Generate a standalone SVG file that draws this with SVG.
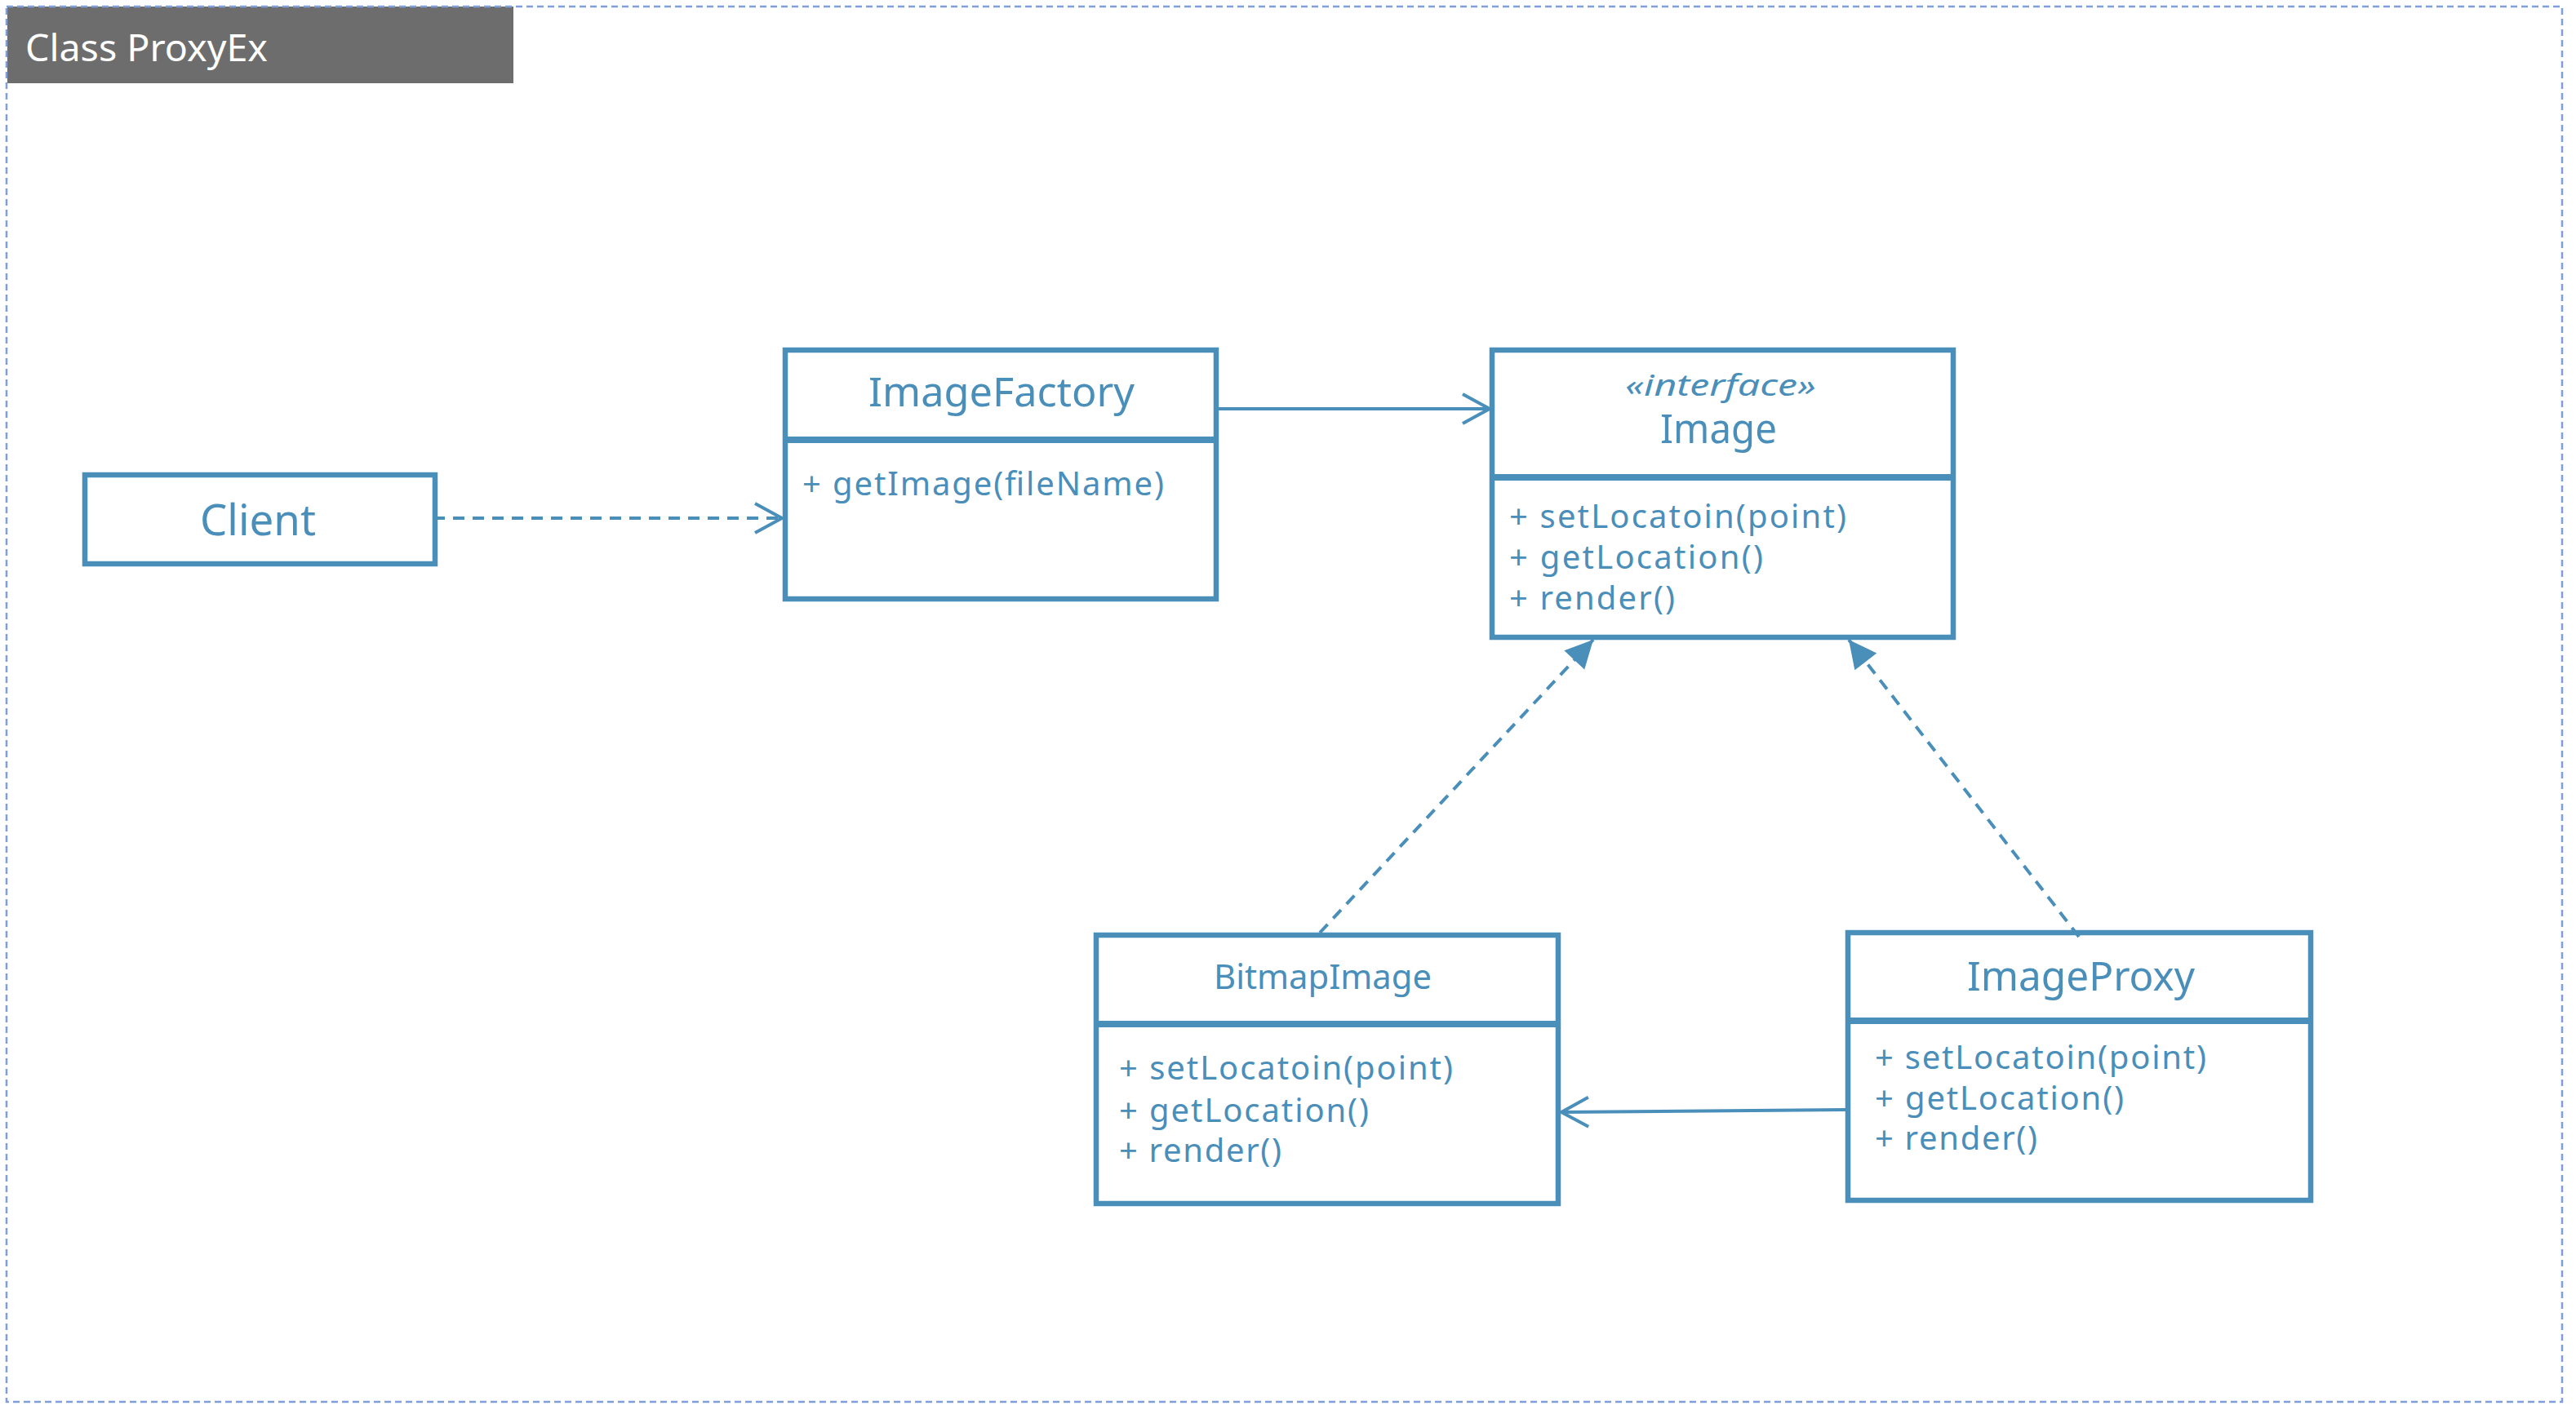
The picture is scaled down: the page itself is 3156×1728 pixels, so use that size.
<svg xmlns="http://www.w3.org/2000/svg" width="3156" height="1728" viewBox="0 0 3156 1728">
<style>
.box{fill:#ffffff;stroke:#4a8eba;stroke-width:6.5}
.div{stroke:#4a8eba;stroke-width:8}
.t{font-family:"Noto Sans","Liberation Sans",sans-serif;fill:#4a8eba}
.m{font-family:"Noto Sans","Liberation Sans",sans-serif;fill:#4a8eba;font-size:40px}
.solid{fill:none;stroke:#4a8eba;stroke-width:4}
.dash{fill:none;stroke:#4a8eba;stroke-width:4;stroke-dasharray:14 10}
</style>
<defs>
<marker id="open" markerUnits="userSpaceOnUse" viewBox="-40 -25 45 50" markerWidth="45" markerHeight="50" refX="0" refY="0" orient="auto">
<path d="M -33 -18 L 0 0 L -33 18" fill="none" stroke="#4a8eba" stroke-width="4" stroke-dasharray="none"/>
</marker>
<marker id="tri" markerUnits="userSpaceOnUse" viewBox="-40 -25 45 50" markerWidth="45" markerHeight="50" refX="0" refY="0" orient="auto">
<path d="M 0 0 L -34 -17 L -34 17 Z" fill="#4a8eba" stroke="none"/>
</marker>
</defs>
<rect width="3156" height="1728" fill="#ffffff"/>
<g id="frame">
<rect x="9" y="8" width="620" height="94" fill="#6d6d6d"/>
<rect x="8" y="8" width="3131" height="1710" fill="none" stroke="#7f9fdc" stroke-width="2.5" stroke-dasharray="8 5"/>
<text x="31" y="75" font-family="Noto Sans, Liberation Sans, sans-serif" font-size="46" fill="#ffffff" textLength="297" lengthAdjust="spacingAndGlyphs">Class ProxyEx</text>
</g>
<g id="Client">
<rect class="box" x="104" y="582" width="429" height="109"/>
<text class="t" x="245" y="656" font-size="53" textLength="142" lengthAdjust="spacingAndGlyphs">Client</text>
</g>
<g id="ImageFactory">
<rect class="box" x="962" y="429" width="528" height="305"/>
<line class="div" x1="962" y1="539" x2="1490" y2="539"/>
<text class="t" x="1064" y="498" font-size="50" textLength="326" lengthAdjust="spacingAndGlyphs">ImageFactory</text>
<text class="m" x="983" y="607" textLength="443" lengthAdjust="spacing">+ getImage(fileName)</text>
</g>
<g id="Image">
<rect class="box" x="1828" y="429" width="565" height="352"/>
<line class="div" x1="1828" y1="585" x2="2393" y2="585"/>
<text class="t" x="1991" y="485" font-size="36" font-style="italic" textLength="234" lengthAdjust="spacingAndGlyphs">«interface»</text>
<text class="t" x="2034" y="543" font-size="49" textLength="143" lengthAdjust="spacingAndGlyphs">Image</text>
<text class="m" x="1849" y="647" textLength="413" lengthAdjust="spacing">+ setLocatoin(point)</text>
<text class="m" x="1849" y="697" textLength="311" lengthAdjust="spacing">+ getLocation()</text>
<text class="m" x="1849" y="747" textLength="203" lengthAdjust="spacing">+ render()</text>
</g>
<g id="BitmapImage">
<rect class="box" x="1343" y="1146" width="566" height="329"/>
<line class="div" x1="1343" y1="1255" x2="1909" y2="1255"/>
<text class="t" x="1487" y="1212" font-size="41" textLength="267" lengthAdjust="spacingAndGlyphs">BitmapImage</text>
<text class="m" x="1371" y="1323" textLength="409" lengthAdjust="spacing">+ setLocatoin(point)</text>
<text class="m" x="1371" y="1375" textLength="306" lengthAdjust="spacing">+ getLocation()</text>
<text class="m" x="1371" y="1424" textLength="199" lengthAdjust="spacing">+ render()</text>
</g>
<g id="ImageProxy">
<rect class="box" x="2264" y="1143" width="567" height="328"/>
<line class="div" x1="2264" y1="1251" x2="2831" y2="1251"/>
<text class="t" x="2410" y="1214" font-size="50" textLength="279" lengthAdjust="spacingAndGlyphs">ImageProxy</text>
<text class="m" x="2297" y="1310" textLength="406" lengthAdjust="spacing">+ setLocatoin(point)</text>
<text class="m" x="2297" y="1360" textLength="305" lengthAdjust="spacing">+ getLocation()</text>
<text class="m" x="2297" y="1409" textLength="199" lengthAdjust="spacing">+ render()</text>
</g>
<g id="connectors">
<path class="dash" d="M 531 635 L 958 635" marker-end="url(#open)"/>
<path class="solid" d="M 1493 501 L 1825 501" marker-end="url(#open)"/>
<path class="dash" d="M 1617 1143 L 1952 784" marker-end="url(#tri)"/>
<path class="dash" d="M 2547 1148 L 2265 784" marker-end="url(#tri)"/>
<path class="solid" d="M 2261 1360 L 1913 1363" marker-end="url(#open)"/>
</g>
</svg>
